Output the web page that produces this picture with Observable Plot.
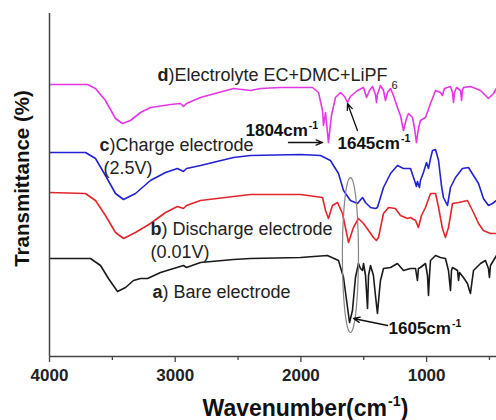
<!DOCTYPE html>
<html>
<head>
<meta charset="utf-8">
<script src="https://cdn.jsdelivr.net/npm/d3@7"></script>
<script src="https://cdn.jsdelivr.net/npm/@observablehq/plot@0.6"></script>
<style>
  html, body { margin: 0; padding: 0; background: #fff; }
  #chart { width: 496px; height: 420px; }
</style>
</head>
<body>
<div id="chart"></div>
<script>
// ---- spectrum a) Bare electrode (black) ----
const wnA = [4000,3674,3594,3531,3459,3395,3332,3276,3220,3117,2934,2910,2799,2536,2401,2003,1789,1701,1661,1629,1613,1590,1566,1542,1526,1510,1502,1486,1470,1462,1446,1423,1407,1391,1375,1367,1343,1287,1232,1184,1128,1088,1073,1065,1049,1009,993,985,977,969,929,890,850,826,810,802,794,754,746,738,707,675,659,651,643,627,571,532,508,500,492,444];
const tA  = [98,98,91,78,65,69,76,78,78,84,91,89,94,97,98,99,101,96,79,49,34,46,79,93,88,86,93,81,48,81,91,81,61,43,66,76,88,89,93,86,88,88,76,88,89,93,81,61,81,96,101,99,98,86,66,86,89,86,76,84,79,73,66,63,71,86,93,96,88,79,91,101];

// ---- spectrum b) Discharge electrode 0.01 V (red) ----
const wnB = [4000,3714,3634,3555,3475,3411,3316,3197,3077,2982,2934,2910,2799,2536,2401,2003,1828,1804,1781,1749,1709,1669,1621,1582,1542,1502,1462,1423,1399,1383,1343,1303,1248,1208,1152,1128,1088,1065,1041,1009,969,929,905,874,850,826,794,746,675,627,587,548,492,444];
const tB  = [164,163,156,141,124,118,124,133,144,150,148,151,156,160,162,162,159,146,138,151,154,143,114,129,138,133,126,119,116,119,143,149,148,141,138,139,136,129,141,149,163,163,149,128,119,129,153,154,156,144,133,126,123,123];

// ---- spectrum c) Charge electrode 2.5 V (blue) ----
const wnC = [4000,3714,3634,3555,3475,3411,3316,3197,3077,2982,2934,2910,2799,2536,2401,2003,1844,1765,1701,1661,1606,1550,1510,1486,1446,1407,1391,1343,1287,1232,1184,1128,1096,1081,1073,1057,1049,1025,1001,985,969,953,929,905,882,866,834,810,770,715,667,627,587,548,508,476,444];
const tC  = [204,204,198,181,163,157,163,176,184,188,185,188,191,199,201,202,201,196,183,166,156,153,159,154,149,148,149,169,183,191,188,188,176,170,175,169,176,184,194,188,198,206,207,196,171,159,151,169,179,188,189,181,173,158,151,153,156];

// ---- spectrum d) Electrolyte EC+DMC+LiPF6 (magenta) ----
const wnD = [4000,3698,3634,3555,3475,3419,3356,3276,3197,3037,2958,2934,2910,2799,2536,2401,2321,2162,1979,1908,1860,1828,1820,1804,1781,1757,1725,1685,1653,1629,1606,1550,1502,1478,1454,1430,1407,1399,1391,1367,1343,1327,1311,1287,1264,1232,1208,1184,1160,1144,1112,1096,1081,1065,1049,1009,969,929,890,874,858,810,794,786,778,762,730,722,715,707,651,571,508,468,444];
const tD  = [272,272,268,256,238,233,236,244,249,252,253,250,253,259,268,266,268,269,269,269,264,246,231,244,214,241,259,264,260,254,260,266,269,259,266,270,262,254,262,271,266,256,264,268,261,249,241,226,238,243,239,228,214,228,236,239,253,266,264,261,268,270,264,254,264,269,266,256,266,269,270,266,258,263,268];

const seriesNames  = ["a", "b", "c", "d"];
const seriesColors = ["#1a1a1a", "#e2262c", "#2222d2", "#e436e4"];

// ---- axis ticks ----
const majorTicks = [4000, 3000, 2000, 1000];
const minorTicks = [3500, 2500, 1500, 500];

// ---- annotation texts (anchored in data units) ----
const labelText = [
  "**d**)Electrolyte EC+DMC+LiPF_{6}",
  "**c**)Charge electrode",
  "(2.5V)",
  "**b**) Discharge electrode",
  "(0.01V)",
  "**a**) Bare electrode"
];
const labelWn = [3141, 3602, 3570, 3197, 3197, 3181];
const labelT  = [281, 211, 188, 127, 104, 64];

const peakText = ["1804cm^{-1}", "1645cm^{-1}", "1605cm^{-1}"];
const peakWn   = [2441, 1709, 1303];
const peakT    = [226, 213, 28];

// arrows: from (wn1,t1) to (wn2,t2)
const arrowWn1 = [2099, 1550, 1311];
const arrowT1  = [214, 226, 31];
const arrowWn2 = [1828, 1629, 1582];
const arrowT2  = [214, 253, 38];

// ellipse around 1605 band
const ellipseCenterWn = 1606, ellipseCenterT = 101.5, ellipseRWn = 64, ellipseRT = 77.5;

// axis titles
const xTitle = "Wavenumber(cm^{-1})";
const yTitle = "Transmittance (%)";

// ---- build tables ----
const wnAll = [wnA, wnB, wnC, wnD];
const tAll = [tA, tB, tC, tD];
const spectra = [];
seriesNames.forEach((s, k) => {
  wnAll[k].forEach((w, i) => spectra.push({series: s, wn: w, t: tAll[k][i]}));
});
const labels = labelText.map((text, i) => ({text, wn: labelWn[i], t: labelT[i]}));
const peaks = peakText.map((text, i) => ({text, wn: peakWn[i], t: peakT[i]}));
const arrows = arrowWn1.map((w, i) => ({x1: w, y1: arrowT1[i], x2: arrowWn2[i], y2: arrowT2[i]}));
const ellipsePts = d3.range(0, 72).map(i => {
  const a = i / 72 * 2 * Math.PI;
  return {wn: ellipseCenterWn + ellipseRWn * Math.cos(a), t: ellipseCenterT + ellipseRT * Math.sin(a)};
});

const font = "'Liberation Sans', Arial, Helvetica, sans-serif";

const chart = Plot.plot({
  width: 496,
  height: 420,
  marginLeft: 49,
  marginRight: 0,
  marginTop: 13,
  marginBottom: 64,
  style: {fontFamily: font, background: "#fff", color: "#222"},
  x: {domain: [4000, 444]},
  y: {domain: [0, 343], axis: null},
  color: {domain: seriesNames, range: seriesColors},
  marks: [
    Plot.line(spectra, {x: "wn", y: "t", z: "series", stroke: "series", strokeWidth: 1.6, clip: true}),
    Plot.line(ellipsePts, {x: "wn", y: "t", curve: "linear-closed", stroke: "#858585", strokeWidth: 1.2}),
    Plot.arrow(arrows, {x1: "x1", y1: "y1", x2: "x2", y2: "y2", stroke: "#111", strokeWidth: 1.3, headLength: 8, headAngle: 45}),
    Plot.text(labels, {x: "wn", y: "t", text: "text", textAnchor: "start", fontSize: 18, fill: "#222"}),
    Plot.text(peaks, {x: "wn", y: "t", text: "text", textAnchor: "start", fontSize: 17, fontWeight: "bold", fill: "#111"}),
    Plot.ruleX([4000], {stroke: "#444", strokeWidth: 1.5}),
    Plot.ruleY([0], {stroke: "#444", strokeWidth: 1.5}),
    Plot.axisX({ticks: majorTicks, tickSize: 6, tickPadding: 6, tickFormat: d => String(d), fontSize: 17, fontWeight: "bold", stroke: "#444", strokeWidth: 1.3, fill: "#222", label: null}),
    Plot.axisX({ticks: minorTicks, tickSize: 4, text: null, stroke: "#444", strokeWidth: 1.3, label: null}),
    Plot.text([xTitle], {x: 1964, y: -52, fontSize: 23, fontWeight: "bold", fill: "#111"}),
    Plot.text([yTitle], {x: 4215, y: 178, rotate: -90, fontSize: 20.5, fontWeight: "bold", fill: "#111"})
  ]
});

document.getElementById("chart").appendChild(chart);

// rich text: **bold**, ^{sup}, _{sub}
d3.select(chart).selectAll("text").each(function() {
  const t = this.textContent;
  if (!/\*\*|\^\{|_\{/.test(t)) return;
  const fs = parseFloat(getComputedStyle(this).fontSize) || 16;
  const el = d3.select(this);
  el.text(null);
  const parts = t.split(/(\*\*[^*]+\*\*|\^\{[^}]+\}|_\{[^}]+\})/).filter(s => s);
  let cur = 0;
  for (const p of parts) {
    const ts = el.append("tspan");
    let target = 0;
    if (p.startsWith("**")) {
      ts.text(p.slice(2, -2)).attr("font-weight", "bold");
    } else if (p.startsWith("^{")) {
      ts.text(p.slice(2, -1)).attr("font-size", (fs * 0.62) + "px").attr("dx", 1);
      target = -0.42 * fs;
    } else if (p.startsWith("_{")) {
      ts.text(p.slice(2, -1)).attr("font-size", (fs * 0.62) + "px").attr("dx", 4);
      target = 0.45 * fs;
    } else {
      ts.text(p);
    }
    if (target - cur !== 0) ts.attr("dy", target - cur);
    cur = target;
  }
});
</script>
</body>
</html>
